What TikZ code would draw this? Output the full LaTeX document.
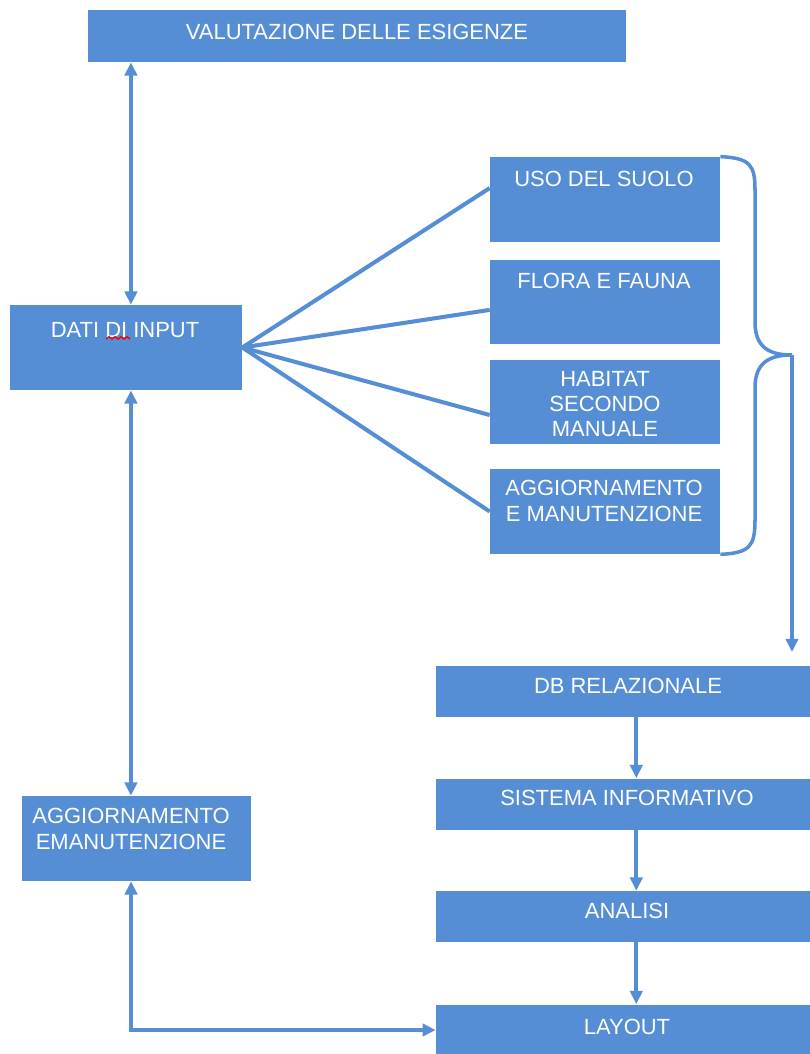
\documentclass[tikz,border=0pt]{standalone}
\usepackage{fontspec}
\setmainfont{Liberation Sans}
\usetikzlibrary{arrows.meta}
\definecolor{boxblue}{RGB}{85,142,213}
\begin{document}
\begin{tikzpicture}[x=0.02cm,y=-0.02cm,
  box/.style={rectangle,fill=boxblue,inner sep=0pt},
  lbl/.style={text=white,align=center,inner sep=0pt,font=\fontsize{12.5}{14.4}\selectfont},
  conn/.style={draw=boxblue,line width=2.3pt},
  tip/.style={-{Triangle[width=7pt,length=7.5pt]}},
  tips/.style={{Triangle[width=7pt,length=7.5pt]}-{Triangle[width=7pt,length=7.5pt]}}]
      \useasboundingbox (0,0) rectangle (809,1054);
      % boxes
      \node[box,minimum width=10.76cm,minimum height=1.04cm] (valu) at (357,36) {};
      \node[box,minimum width=4.64cm,minimum height=1.7cm] (dati) at (126,347.5) {};
      \node[box,minimum width=4.6cm,minimum height=1.7cm] (uso) at (605,199.5) {};
      \node[box,minimum width=4.6cm,minimum height=1.7cm] (flora) at (605,302) {};
      \node[box,minimum width=4.6cm,minimum height=1.7cm] (habitat) at (605,402) {};
      \node[box,minimum width=4.6cm,minimum height=1.7cm] (aggr) at (605,511.5) {};
      \node[box,minimum width=4.58cm,minimum height=1.7cm] (aggl) at (136.5,838.5) {};
      \node[box,minimum width=7.64cm,minimum height=1.02cm] (db) at (627,691) {};
      \node[box,minimum width=7.64cm,minimum height=1.02cm] (sis) at (627,804) {};
      \node[box,minimum width=7.64cm,minimum height=1.02cm] (analisi) at (627,916.5) {};
      \node[box,minimum width=7.64cm,minimum height=1.02cm] (layout) at (627,1030) {};
      % texts
      \node[lbl] (valut) at (357,31.5) {VALUTAZIONE DELLE ESIGENZE};
      \node[lbl] (datit) at (125,330) {DATI DI INPUT};
      \node[lbl] (usot) at (604,179) {USO DEL SUOLO};
      \node[lbl] (florat) at (604,281) {FLORA E FAUNA};
      \node[lbl] (habt) at (605,404) {HABITAT\\SECONDO\\MANUALE};
      \node[lbl] (aggrt) at (604,501) {AGGIORNAMENTO\\E MANUTENZIONE};
      \node[lbl] (agglt) at (131,829) {AGGIORNAMENTO\\EMANUTENZIONE};
      \node[lbl] (dbt) at (628,685.5) {DB RELAZIONALE};
      \node[lbl] (sist) at (627,798) {SISTEMA INFORMATIVO};
      \node[lbl] (analt) at (627,911) {ANALISI};
      \node[lbl] (layt) at (627,1027) {LAYOUT};
      \draw[red,line width=0.8pt] (106,339) \foreach \i in {1,...,8} {-- ++(3,{2*mod(\i,2)-1)*-2.2})};
      % fan of lines
      \draw[conn] (dati.east) -- ([yshift=6.5pt]uso.west);
      \draw[conn] (dati.east) -- ([yshift=-4.5pt]flora.west);
      \draw[conn] (dati.east) -- ([yshift=-7.4pt]habitat.west);
      \draw[conn] (dati.east) -- (aggr.west);
      % brace
      \coordinate (bt) at (792,355);
      \coordinate (dbin) at (792,652);
      \draw[conn,line width=2pt] (uso.north east) .. controls (750,158) and (755,165) .. (755,190)
        -- (755,322) .. controls (755,348) and (770,355) .. (bt)
        .. controls (770,355) and (755,362) .. (755,388)
        -- (755,520) .. controls (755,546) and (750,553) .. (aggr.south east);
      \draw[conn,line width=2pt,tip] (bt) -- (dbin);
      % arrows
      \draw[conn,tips] ([xshift=2.8pt]dati.north) -- ([xshift=2.8pt]dati.north |- valu.south);
      \draw[conn,tips] ([xshift=2.8pt]dati.south) -- ([xshift=2.8pt]dati.south |- aggl.north);
      \draw[conn,tips] ([xshift=-3.1pt]aggl.south) |- (layout.west);
      \draw[conn,tip] ([xshift=5.3pt]db.south) -- ([xshift=5.3pt]sis.north);
      \draw[conn,tip] ([xshift=5.3pt]sis.south) -- ([xshift=5.3pt]analisi.north);
      \draw[conn,tip] ([xshift=5.3pt]analisi.south) -- ([xshift=5.3pt]layout.north);
\end{tikzpicture}
\end{document}
